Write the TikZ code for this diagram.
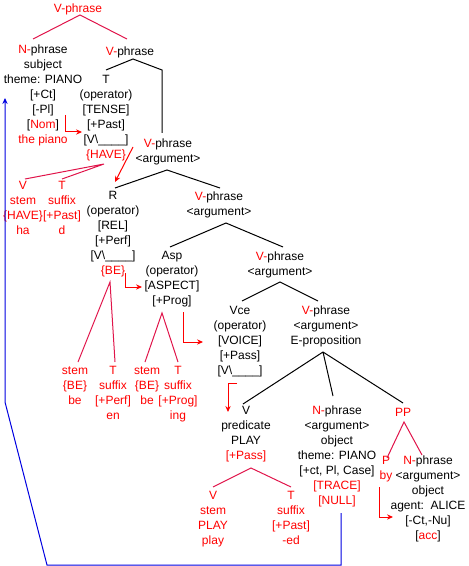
\documentclass[tikz,border=0pt]{standalone}
\usepackage{fontspec}
\setmainfont{Liberation Sans}[Ligatures=NoCommon]
\usepackage{tikz}
\usetikzlibrary{arrows.meta}
\definecolor{redtxt}{HTML}{FF0000}
\definecolor{redln}{HTML}{E0144A}
\definecolor{bluln}{HTML}{0000E0}
\newcommand{\rd}[1]{\textcolor{redtxt}{#1}}
\newcommand{\vslot}{[V\textbackslash\_\_\_\_]}
\tikzset{
  lbl/.style={anchor=north,inner sep=0pt,align=center,font=\fontsize{9}{11.25}\selectfont,execute at begin node=\strut},
  leaf/.style={lbl,text=redtxt},
  br/.style={black,line width=0.75pt},
  rbr/.style={redln,line width=0.75pt},
  ar/.style={-{Stealth[length=4.5pt,width=4pt]},redtxt,line width=0.75pt},
  mv/.style={-{Stealth[length=4.5pt,width=4pt]},bluln,line width=0.75pt}
}
\begin{document}
\begin{tikzpicture}[x=0.75pt,y=-0.75pt]
\useasboundingbox (0,0) rectangle (468,566);
% phrase nodes
\node[leaf] (vp0) at (78,1.5) {V-phrase};
\node[lbl] (np1) at (43,44.5) {\rd{N-}phrase\\subject\\theme: PIANO\\{[+Ct]}\\{[-Pl]}\\{[\rd{Nom}]}\\\rd{the piano}};
\node[lbl] (vp1) at (130,44.5) {\rd{V-}phrase};
\node[lbl] (tnode) at (106,74.5) {T\\(operator)\\{[TENSE]}\\{[+Past]}\\{\vslot}\\\rd{\{HAVE\}}};
\node[lbl] (vp2) at (168,138.5) {\rd{V-}phrase\\<argument>};
\node[leaf] (vl1) at (23,180.5) {V\\stem\\\{HAVE\}\\ha};
\node[leaf] (tl1) at (62,180.5) {T\\suffix\\{[+Past]}\\d};
\node[lbl] (rnode) at (113,190.5) {R\\(operator)\\{[REL]}\\{[+Perf]}\\{\vslot}\\\rd{\{BE\}}};
\node[lbl] (vp3) at (219,191.5) {\rd{V-}phrase\\<argument>};
\node[lbl] (aspn) at (172,250.5) {Asp\\(operator)\\{[ASPECT]}\\{[+Prog]}};
\node[lbl] (vp4) at (280,251.5) {\rd{V-}phrase\\<argument>};
\node[leaf] (stem2) at (75,366.5) {stem\\\{BE\}\\be};
\node[leaf] (tl2) at (113,365.5) {T\\suffix\\{[+Perf]}\\en};
\node[leaf] (stem3) at (147,366.5) {stem\\\{BE\}\\be};
\node[leaf] (tl3) at (178,365.5) {T\\suffix\\{[+Prog]}\\ing};
\node[lbl] (vce) at (240,305.5) {Vce\\(operator)\\{[VOICE]}\\{[+Pass]}\\{\vslot}};
\node[lbl] (vpe) at (326,305.5) {\rd{V-}phrase\\<argument>\\E-proposition};
\node[lbl] (vpred) at (246,405.5) {V\\predicate\\PLAY\\\rd{[+Pass]}};
\node[lbl] (np2) at (337,405.5) {\rd{N-}phrase\\<argument>\\object\\theme: PIANO\\{[+ct, Pl, Case]}\\\rd{[TRACE]}\\\rd{[NULL]}};
\node[leaf] (pp) at (403,405.5) {PP};
\node[leaf] (pby) at (386,455.5) {P\\by};
\node[lbl] (np3) at (428,455.5) {\rd{N-}phrase\\<argument>\\object\\agent:\ \ ALICE\\{[-Ct,-Nu]}\\{[\rd{acc}]}};
\node[leaf] (vl4) at (213,490.5) {V\\stem\\PLAY\\play};
\node[leaf] (tl4) at (291,490.5) {T\\suffix\\{[+Past]}\\-ed};
% branches
\draw[rbr] ([shift={(-10,-5.5)}]np1.north) -- ([shift={(2,13.5)}]vp0.north) -- ([shift={(-3,-5.5)}]vp1.north);
\draw[br] ([shift={(0,-4.5)}]tnode.north) -- ([shift={(3,14.5)}]vp1.north) -- ([shift={(-6,-68.5)}]vp2.north) -- ([shift={(-6,-5.5)}]vp2.north);
\draw[rbr] ([shift={(2,-1.5)}]vl1.north) -- ([shift={(-2,89.5)}]tnode.north) -- ([shift={(0,-1.5)}]tl1.north);
\draw[br] ([shift={(2,-2.5)}]rnode.north) -- ([shift={(-1,31.5)}]vp2.north) -- ([shift={(1,-3.5)}]vp3.north);
\draw[rbr] ([shift={(3,-4.5)}]stem2.north) -- ([shift={(-3,91.5)}]rnode.north) -- ([shift={(2,-3.5)}]tl2.north);
\draw[br] ([shift={(-2,-3.5)}]aspn.north) -- ([shift={(7,31.5)}]vp3.north) -- ([shift={(3,-4.5)}]vp4.north);
\draw[rbr] ([shift={(-2,-4.5)}]stem3.north) -- ([shift={(-10,62.5)}]aspn.north) -- ([shift={(0,-3.5)}]tl3.north);
\draw[br] ([shift={(2,-4.5)}]vce.north) -- ([shift={(0,30.5)}]vp4.north) -- ([shift={(-8,-4.5)}]vpe.north);
\draw[br] ([shift={(-3,46.5)}]vpe.north) coordinate (ep) -- ([shift={(-3,-1.5)}]vpred.north)
  (ep) -- ([shift={(-4,-9.5)}]np2.north) (ep) -- ([shift={(0,-2.5)}]pp.north);
\draw[rbr] ([shift={(0,-3.5)}]vl4.north) -- ([shift={(5,62.5)}]vpred.north) -- ([shift={(0,-3.5)}]tl4.north);
\draw[rbr] ([shift={(1,2.5)}]pby.north) -- ([shift={(1,16.5)}]pp.north) -- ([shift={(-6,-0.5)}]np3.north);
% movement arrows
\draw[ar] ([shift={(22,70.5)}]np1.north) |- ([shift={(-24,57.5)}]tnode.north);
\draw[ar] ([shift={(27,72.5)}]tnode.north) -- ([shift={(2,-8.5)}]rnode.north);
\draw[ar] ([shift={(12,82.5)}]rnode.north) |- ([shift={(-30,36.5)}]aspn.north);
\draw[ar] ([shift={(11,61.5)}]aspn.north) |- ([shift={(-37,36.5)}]vce.north);
\draw[ar] ([shift={(-3,77.5)}]vce.north) -| ([shift={(-18,6.5)}]vpred.north);
\draw[ar] ([shift={(-7,31.5)}]pby.north) |- ([shift={(-35,61.5)}]np3.north);
\draw[mv] ([shift={(4,107.5)}]np2.north) -- ++(0,52) -- ++(-294,0) -- ++(-42,-163) -- ([shift={(-38,53.5)}]np1.north);
\end{tikzpicture}
\end{document}
